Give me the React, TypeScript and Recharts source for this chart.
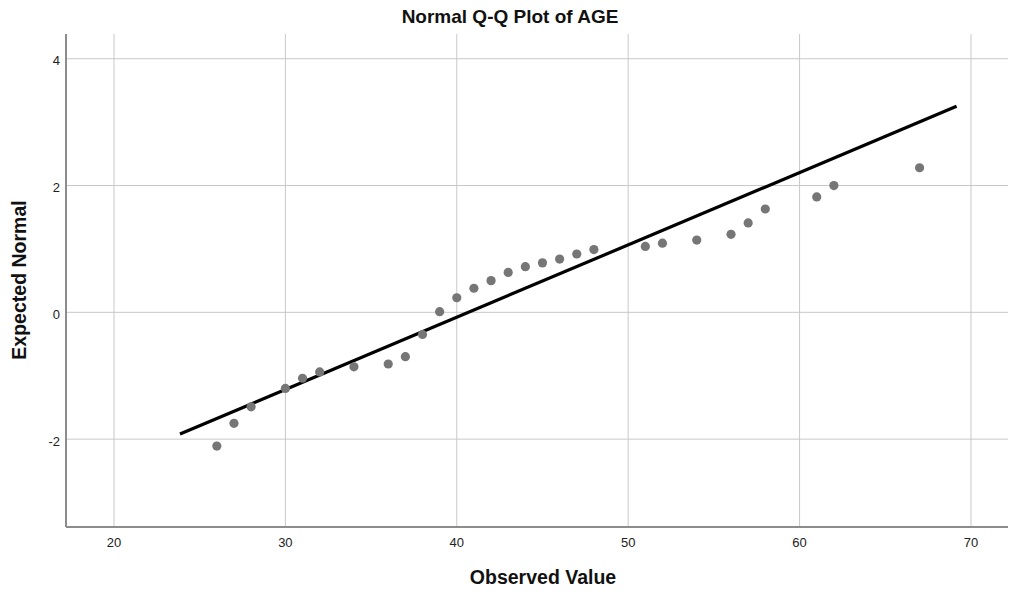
import {
  ComposedChart,
  Scatter,
  XAxis,
  YAxis,
  CartesianGrid,
  ReferenceLine,
  Label
} from 'recharts';

// observed AGE values and their expected normal scores
const ageValues = [26, 27, 28, 30, 31, 32, 34, 36, 37, 38, 39, 40, 41, 42, 43, 44, 45, 46, 47, 48, 51, 52, 54, 56, 57, 58, 61, 62, 67];
const expectedNormal = [-2.11, -1.75, -1.49, -1.2, -1.04, -0.94, -0.86, -0.815, -0.7, -0.35, 0.01, 0.23, 0.38, 0.5, 0.63, 0.72, 0.78, 0.84, 0.92, 0.99, 1.04, 1.09, 1.14, 1.23, 1.41, 1.63, 1.82, 2.0, 2.28];

// endpoints of the reference (fit) line
const fitX = [23.85, 69.16];
const fitY = [-1.92, 3.25];

const xTicks = [20, 30, 40, 50, 60, 70];
const yTicks = [-2, 0, 2, 4];

const points = ageValues.map((age, i) => ({ age, normal: expectedNormal[i] }));

const FONT = '"Liberation Sans", Arial, sans-serif';

const Dot = (props: any) => (
  <circle cx={props.cx} cy={props.cy} r={4.6} fill="#767676" />
);

export default function App() {
  return (
    <div style={{ position: 'absolute', left: 0, top: 0, width: 1009, height: 592, background: '#fff', fontFamily: FONT }}>
      <div
        style={{
          position: 'absolute',
          left: 0,
          top: 7,
          width: 1020,
          textAlign: 'center',
          fontSize: 19,
          lineHeight: '20px',
          fontWeight: 'bold',
          color: '#111'
        }}
      >
        Normal Q-Q Plot of AGE
      </div>
      <ComposedChart
        width={1009}
        height={592}
        data={points}
        margin={{ top: 34, right: 1, left: 0, bottom: 0 }}
      >
        <CartesianGrid stroke="#c8c8c8" strokeWidth={1} syncWithTicks />
        <XAxis
          type="number"
          dataKey="age"
          domain={[17.2, 72.16]}
          ticks={xTicks}
          allowDataOverflow
          height={65}
          tickLine={false}
          tickMargin={5}
          stroke="#8c8c8c"
          strokeWidth={2}
          tick={{ fill: '#222', fontSize: 13, fontFamily: FONT }}
        >
          <Label
            content={() => (
              <text x={543} y={584} textAnchor="middle" fontSize={19.5} fontWeight="bold" fill="#111" fontFamily={FONT}>
                Observed Value
              </text>
            )}
          />
        </XAxis>
        <YAxis
          type="number"
          dataKey="normal"
          domain={[-3.386, 4.39]}
          ticks={yTicks}
          allowDataOverflow
          width={66}
          tickLine={false}
          tickMargin={0}
          stroke="#8c8c8c"
          strokeWidth={2}
          tick={{ fill: '#222', fontSize: 13, fontFamily: FONT, dy: 2 }}
        >
          <Label
            content={() => (
              <text
                x={26}
                y={280}
                transform="rotate(-90 26 280)"
                textAnchor="middle"
                fontSize={19.5}
                fontWeight="bold"
                fill="#111"
                fontFamily={FONT}
              >
                Expected Normal
              </text>
            )}
          />
        </YAxis>
        <ReferenceLine
          segment={[
            { x: fitX[0], y: fitY[0] },
            { x: fitX[1], y: fitY[1] }
          ]}
          stroke="#000"
          strokeWidth={3.2}
        />
        <Scatter dataKey="normal" shape={Dot} isAnimationActive={false} />
      </ComposedChart>
    </div>
  );
}
